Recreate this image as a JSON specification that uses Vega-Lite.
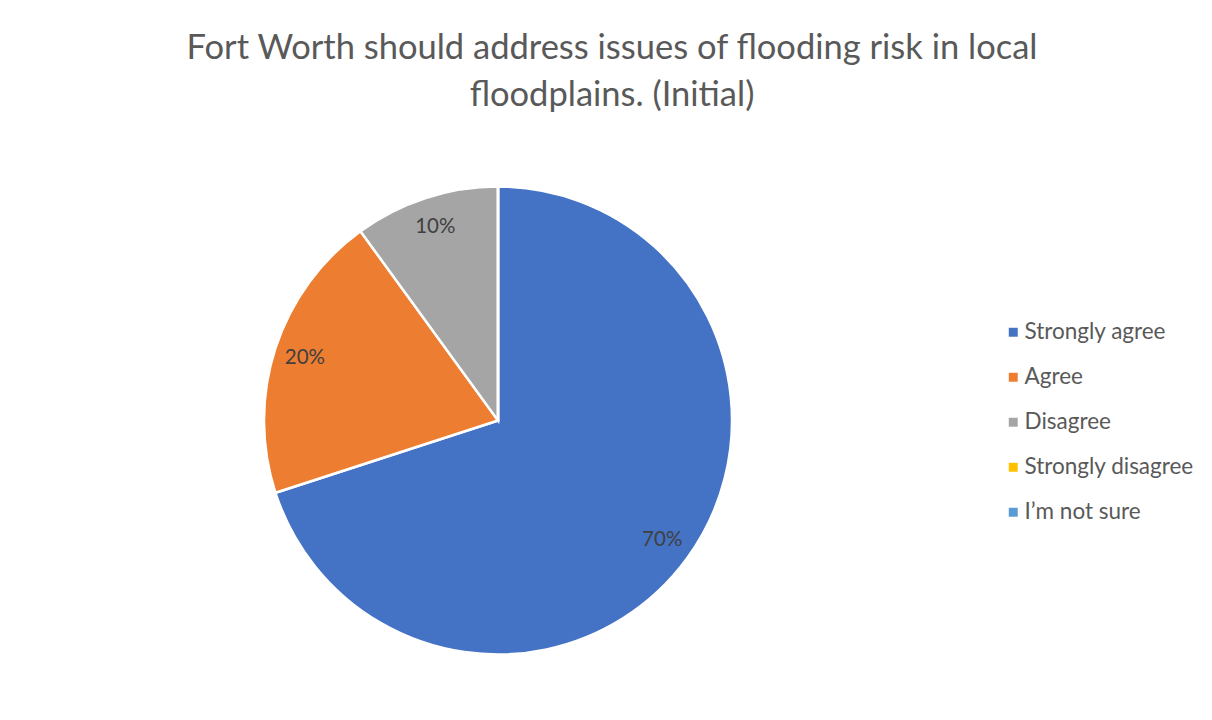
{
  "$schema": "https://vega.github.io/schema/vega-lite/v6.json",
  "width": 996,
  "height": 599,
  "autosize": {"type": "none"},
  "padding": {"left": 0, "top": 121, "right": 216, "bottom": 0},
  "background": "white",
  "title": {
    "text": ["Fort Worth should address issues of flooding risk in local", "floodplains. (Initial)"],
    "anchor": "middle",
    "dx": 114,
    "offset": 8,
    "font": "Lato",
    "fontSize": 34.5,
    "fontWeight": "normal",
    "color": "#595959",
    "lineHeight": 47
  },
  "data": {
    "values": [
      {"response": "Strongly agree", "share": 0.7, "rank": 1},
      {"response": "Agree", "share": 0.2, "rank": 2},
      {"response": "Disagree", "share": 0.1, "rank": 3},
      {"response": "Strongly disagree", "share": 0, "rank": 4},
      {"response": "I’m not sure", "share": 0, "rank": 5}
    ]
  },
  "encoding": {
    "theta": {"field": "share", "type": "quantitative", "stack": true},
    "order": {"field": "rank", "type": "quantitative"},
    "color": {
      "field": "response",
      "type": "nominal",
      "scale": {
        "domain": ["Strongly agree", "Agree", "Disagree", "Strongly disagree", "I’m not sure"],
        "range": ["#4472C4", "#ED7D31", "#A5A5A5", "#FFC000", "#5B9BD5"]
      },
      "legend": {
        "title": null,
        "orient": "none",
        "legendX": 1002,
        "legendY": 200,
        "symbolType": "square",
        "symbolSize": 80,
        "symbolStrokeWidth": 0,
        "labelFont": "Lato",
        "labelFontSize": 22.5,
        "labelColor": "#595959",
        "labelLimit": 400,
        "rowPadding": 22,
        "labelOffset": 0
      }
    }
  },
  "layer": [
    {
      "mark": {"type": "arc", "outerRadius": 234, "stroke": "white", "strokeWidth": 2.5}
    },
    {
      "transform": [{"filter": "datum.share > 0"}],
      "mark": {"type": "text", "radius": 203, "font": "Lato", "fontSize": 20.5, "color": "#404040"},
      "encoding": {
        "text": {"field": "share", "type": "quantitative", "format": ".0%"},
        "color": {"value": "#404040"}
      }
    }
  ],
  "config": {"view": {"stroke": null}}
}
